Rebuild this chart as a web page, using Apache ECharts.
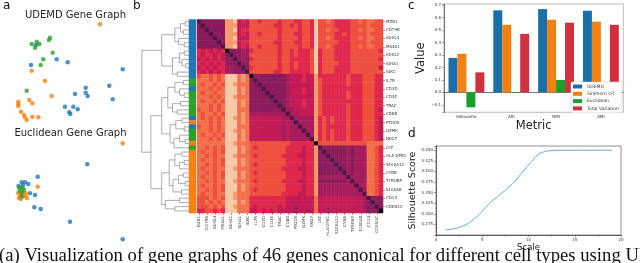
<!DOCTYPE html>
<html><head><meta charset="utf-8">
<script src="https://cdn.jsdelivr.net/npm/echarts@6/dist/echarts.min.js"></script>
<style>html,body{margin:0;padding:0;background:#fff;overflow:hidden}#c{width:640px;height:263px}</style>
</head><body><div id="c"></div>
<script>
// ---------- panel a : gene graph embeddings ----------
const udemdBlue = [[26,80],[46.7,65.7],[57.7,62.7],[21,60],[112.7,55.7],[75.7,37.3],[99.3,39.3],[75.7,32.3],[77.7,29],[65,31],[102.7,25.7],[55,18.3],[63.3,18.3],[67.7,15.7],[59.3,12.7],[60.3,11]];
const udemdOrange = [[90,100.7],[21.7,54.3],[35,44],[41.7,29],[19.3,25],[22.3,21.7],[8.3,23.3],[8.3,21],[8.3,19],[11,13.3],[14,10],[15,7.7],[16.7,5],[22.3,8.3],[28.3,7.7]];
const udemdGreen = [[40,87.3],[39,85],[26.7,83.3],[21.7,81],[29.3,81],[25,77.3],[42.7,72.3],[33.3,65.7],[30.7,60],[16.7,34.3]];
const euclBlue = [[77.3,78.7],[27.7,66.3],[11.7,60.7],[15,60.7],[18.3,59],[20,49.7],[25,48],[24.3,35.7],[30.7,34],[60,21.3],[112.7,3.7],[8.5,57],[13,58]];
const euclOrange = [[112.7,99.7],[27.7,56.3],[8,50],[10,48],[12,46],[15,47],[17,45],[9,45],[13,49],[16,49.5],[11,44]];
const euclGreen = [[9,55],[11,56],[13,54],[10,52],[12,51],[14,53],[11.5,47]];

// ---------- panel b : clustered distance heatmap ----------
const genes = ['MZB1','CD79A','CD79B','IGHM','IGHG4','JCHAIN','MS4A1','IGLC2','IGHG2','IGHG1','IGHA1','IGHG3','IGKC','CD3G','IL7R','LEF1','CD3D','CCR7','CD3E','CD8A','TRAC','CD2','CD8B','GNLY','PTGDS','PRF1','GZMK','GZMB','NKG7','FCER1G','LYZ','S100A9','HLA-DPB1','LST1','S100A12','FCGR3A','CYBB','CST3','TYROBP','MS4A7','S100A8','CTSS','CD14','LGALS2','CDKN1C','AIF1'];
// colour level 0 (darkest) .. 9 (palest) per cell, read row by row
const heatRows = [
"1222222 889 454 6656666566 655665 9 667655556676 7766",
"2122222 888 444 6666665566 565665 9 666655556666 7666",
"2212222 889 455 6666666566 665665 9 667665556676 7766",
"2221222 888 454 6656666566 655665 9 666655656666 7666",
"2222122 889 444 6666666566 665665 9 667655556676 7766",
"2222212 888 455 6666665566 655665 9 666665556666 7666",
"2222221 889 454 6656666566 665665 9 667655556676 7766",
"5454545 022 233 5666666566 565556 9 566655556666 6665",
"5455454 212 233 6666666566 565556 9 566655556666 6666",
"4545454 221 232 5666666566 555556 9 566655556666 6665",
"5454545 222 122 6666666566 565556 9 566665556666 6666",
"4545455 332 212 5666666566 565556 9 566655556666 6664",
"5454545 332 221 6666665566 555556 9 566655556666 6666",
"6776767 999 787 0222222223 444544 8 555555565556 6655",
"7776767 999 787 2122222223 444544 8 655555565556 6655",
"7677676 998 777 2212222223 444444 8 655555565556 6655",
"7776767 999 787 2221222223 444544 8 655555555556 6655",
"7677677 999 787 2222122223 444544 8 655555565556 6655",
"7776767 998 777 2222212223 444444 8 655555565556 6655",
"7677676 999 787 2222221223 444544 8 655555555556 6655",
"7776767 999 787 2222222123 444544 8 655555565556 6655",
"6776767 999 777 2222222213 344444 8 655555565556 6654",
"7677676 999 787 3333333331 334444 8 655555565556 6655",
"7676767 998 787 4444444433 133333 8 565655565556 6654",
"7776767 999 787 4444444434 313333 8 565655565556 6654",
"6776767 999 777 4444444434 331333 8 565555565556 6654",
"7776767 998 787 4444444434 333133 8 565655565556 6654",
"7677676 999 787 4444444434 333313 8 565655565556 6654",
"7776767 999 787 4444444434 333331 8 565655565556 6654",
"7777777 998 777 6666666666 555555 0 666666666666 7777",
"7767676 999 787 6566666665 555455 8 122222232333 7765",
"7677676 999 787 6666666665 555455 8 212222232333 7765",
"7767677 998 777 6566666655 554455 8 221222232333 7765",
"7677676 999 787 6666666665 555455 8 222122232333 7765",
"7767676 999 787 6566666665 555455 8 222212232333 7765",
"7677677 998 777 6666666655 554455 8 222221232333 7765",
"7767676 999 787 6566666665 555455 8 222222132333 7765",
"7677676 999 787 6666666665 555455 8 333333313333 7765",
"7767677 998 777 6566666655 554455 8 222222231333 7765",
"7677676 999 787 6666666665 555455 8 333333333133 7765",
"7767676 999 787 6566666665 555455 8 333333333313 7765",
"7677677 998 777 6666666655 554455 8 333333333331 7765",
"6667676 998 777 5555555554 444444 7 444444444443 1222",
"6676767 999 787 5555555554 444444 7 444444444443 2122",
"6667676 998 777 5455555454 434444 7 444444444443 2212",
"5566565 999 777 4454545444 434434 7 443444444443 2220"
];
// cell-type group of each row (B = blue, G = green, O = orange)
const rowGroups = "BBBBBBBBBBBBBBGGBGGGGGGBOBGGGOGOOOOOOOOOOOOOOO";
// dendrogram: leaf = 1, node = [mergeHeight, left, right]
const dendroTree = [1.0,
  [0.58,
    [0.30,[0.18,[0.08,1,1],[0.12,1,1]],[0.22,1,[0.10,1,1]]],
    [0.35,[0.20,[0.10,1,1],[0.15,1,[0.07,1,1]]],[0.25,1,1]]],
  [0.81,
    [0.58,
      [0.45,[0.30,[0.12,1,1],[0.20,1,[0.10,1,1]]],[0.35,[0.18,1,1],[0.25,1,1]]],
      [0.40,[0.28,[0.15,1,1],[0.10,1,1]],[0.32,[0.20,1,[0.08,1,1]],1]]],
    [0.58,
      [0.42,[0.30,[0.15,1,1],[0.20,[0.10,1,1],1]],[0.34,[0.22,[0.12,1,1],[0.08,1,1]],[0.16,1,1]]],
      [0.50,[0.20,1,1],[0.30,1,1]]]]];

// ---------- panel c : clustering metrics ----------
const metrics = ['Silhouette','ARI','NMI','AMI'];
const udemdVals = [0.277,0.659,0.669,0.656];
const sinkhornVals = [0.310,0.543,0.584,0.568];
const euclideanVals = [-0.120,-0.005,0.100,0.002];
const tvVals = [0.161,0.470,0.560,0.543];

// ---------- panel d : silhouette vs scale ----------
const scaleVals = [1.0,1.5,2.0,2.5,3.0,3.5,4.0,4.5,5.0,5.5,6.0,6.5,7.0,7.5,8.0,8.5,9.0,9.5,10.0,10.5,11.0,11.5,12.0,12.5,13.0,14.0,15.0,16.0,17.0,18.0,19.0];
const silVals = [0.262,0.263,0.265,0.268,0.272,0.278,0.286,0.295,0.306,0.318,0.329,0.338,0.347,0.356,0.366,0.376,0.389,0.402,0.415,0.427,0.439,0.445,0.448,0.449,0.450,0.450,0.450,0.450,0.450,0.450,0.450];

// ================= build =================
const FONT = '"DejaVu Sans", sans-serif';
const levelColors = ['#100810','#4b1548','#8a1c5c','#a61d5c','#c21b55','#e0284c','#ee5040','#f3704c','#f6996f','#f9c8a8'];
const heatData = [];
heatRows.forEach((s, r) => {
  const t = s.replace(/ /g, '');
  for (let c = 0; c < t.length; c++) heatData.push([c, r, +t[c]]);
});
const groupIdx = {B:0, G:1, O:2};
const barData = rowGroups.split('').map((g, r) => [0, r, groupIdx[g]]);
let leafCounter = 0;
const dendroLines = [];
function layout(node) {
  if (node === 1) return {y: leafCounter++, h: 0};
  const L = layout(node[1]), R = layout(node[2]);
  dendroLines.push({coords: [[L.h, L.y], [node[0], L.y], [node[0], R.y], [R.h, R.y]]});
  return {y: (L.y + R.y) / 2, h: node[0]};
}
layout(dendroTree);

const fmt1 = v => { const r = Math.round(v * 10); if (Math.abs(v * 10 - r) > 1e-6) return ''; return (r < 0 ? '\u2212' : '') + (Math.abs(r) / 10).toFixed(1); };
const fmt3 = v => { const r = Math.round(v * 40); if (Math.abs(v * 40 - r) > 1e-6 || v < 0.26) return ''; return v.toFixed(3); };

const grids = [
  {left: 10, top: 20, width: 120, height: 105},
  {left: 10, top: 138, width: 120, height: 105},
  {left: 140, top: 19.5, width: 49, height: 193.5},
  {left: 189, top: 19.5, width: 6.8, height: 193.5},
  {left: 197, top: 19.5, width: 186, height: 193.5},
  {left: 444, top: 4, width: 179.3, height: 108.3, show: true, borderColor: '#aaa', borderWidth: 0.8},
  {left: 436, top: 146, width: 185, height: 89, show: true, borderColor: '#777', borderWidth: 0.8}
].map(g => Object.assign({outerBoundsMode: 'none', containLabel: false}, g));

const smallLabel = {fontSize: 4, color: '#333', fontFamily: FONT};
const option = {
  animation: false,
  textStyle: {fontFamily: FONT},
  grid: grids,
  xAxis: [
    {gridIndex: 0, type: 'value', min: 0, max: 120, show: false},
    {gridIndex: 1, type: 'value', min: 0, max: 120, show: false},
    {gridIndex: 2, type: 'value', min: 0, max: 1.04, inverse: true, show: false},
    {gridIndex: 3, type: 'category', data: ['g'], show: false},
    {gridIndex: 4, type: 'category', data: genes, axisLine: {show: false},
      axisTick: {show: true, interval: 1, length: 2, lineStyle: {color: '#333', width: 0.5}, alignWithLabel: true},
      axisLabel: Object.assign({interval: 1, rotate: 90, margin: 3}, smallLabel)},
    {gridIndex: 5, type: 'category', data: metrics,
      axisLine: {lineStyle: {color: '#555', width: 0.8}},
      axisTick: {alignWithLabel: true, length: 2, lineStyle: {color: '#555', width: 0.5}},
      axisLabel: Object.assign({margin: 3}, smallLabel),
      name: 'Metric', nameLocation: 'middle', nameGap: 7, nameTextStyle: {fontSize: 11.5, color: '#222', fontFamily: FONT, verticalAlign: 'top'}},
    {gridIndex: 6, type: 'value', min: 0, max: 20, interval: 5,
      axisLine: {lineStyle: {color: '#444', width: 0.8}},
      axisTick: {length: 2, lineStyle: {color: '#444', width: 0.5}},
      minorTick: {show: true, splitNumber: 2, length: 1.5, lineStyle: {color: '#444', width: 0.5}},
      splitLine: {show: false},
      axisLabel: Object.assign({margin: 3}, smallLabel),
      name: 'Scale', nameLocation: 'middle', nameGap: 6, nameTextStyle: {fontSize: 8.5, color: '#222', fontFamily: FONT, verticalAlign: 'top'}}
  ],
  yAxis: [
    {gridIndex: 0, type: 'value', min: 0, max: 105, show: false},
    {gridIndex: 1, type: 'value', min: 0, max: 105, show: false},
    {gridIndex: 2, type: 'value', min: -0.5, max: 45.5, inverse: true, show: false},
    {gridIndex: 3, type: 'category', data: genes, inverse: true, show: false},
    {gridIndex: 4, type: 'category', data: genes, inverse: true, position: 'right', axisLine: {show: false},
      axisTick: {show: true, interval: 1, length: 2, lineStyle: {color: '#333', width: 0.5}, alignWithLabel: true},
      axisLabel: Object.assign({interval: 1, margin: 3}, smallLabel)},
    {gridIndex: 5, type: 'value', min: -0.16, max: 0.71, splitNumber: 9,
      axisLine: {show: true, lineStyle: {color: '#555', width: 0.8}},
      axisTick: {show: true, length: 2, lineStyle: {color: '#555', width: 0.5}},
      splitLine: {show: false},
      axisLabel: Object.assign({margin: 3, formatter: fmt1}, smallLabel),
      name: 'Value', nameLocation: 'middle', nameGap: 17, nameTextStyle: {fontSize: 11.5, color: '#222', fontFamily: FONT}},
    {gridIndex: 6, type: 'value', min: 0.25, max: 0.46, interval: 0.025,
      axisLine: {show: true, lineStyle: {color: '#444', width: 0.8}},
      axisTick: {show: true, length: 2, lineStyle: {color: '#444', width: 0.5}},
      splitLine: {show: false},
      axisLabel: Object.assign({margin: 3, formatter: fmt3}, smallLabel),
      name: 'Silhouette Score', nameLocation: 'middle', nameGap: 12.5, nameTextStyle: {fontSize: 9.5, color: '#222', fontFamily: FONT}}
  ],
  visualMap: [
    {type: 'continuous', show: false, seriesIndex: 7, dimension: 2, min: 0, max: 9, inRange: {color: levelColors}},
    {type: 'piecewise', show: false, seriesIndex: 8, dimension: 2,
      pieces: [{value: 0, color: '#1f77b4'}, {value: 1, color: '#2ca02c'}, {value: 2, color: '#ff7f0e'}]}
  ],
  legend: {
    left: 571, top: 82, orient: 'vertical', icon: 'rect', itemWidth: 9, itemHeight: 4, itemGap: 2.3,
    padding: [2, 3, 2, 2], borderColor: '#ccc', borderWidth: 0.6, borderRadius: 1, backgroundColor: '#fff',
    textStyle: {fontSize: 4.5, color: '#333', fontFamily: FONT},
    data: ['UDEMD', 'Sinkhorn OT', 'Euclidean', 'Total Variation']
  },
  series: [
    {type: 'scatter', xAxisIndex: 0, yAxisIndex: 0, data: udemdBlue, symbolSize: 4.5, itemStyle: {color: '#1f77b4'}},
    {type: 'scatter', xAxisIndex: 0, yAxisIndex: 0, data: udemdOrange, symbolSize: 4.5, itemStyle: {color: '#ff7f0e'}},
    {type: 'scatter', xAxisIndex: 0, yAxisIndex: 0, data: udemdGreen, symbolSize: 4.5, itemStyle: {color: '#2ca02c'}},
    {type: 'scatter', xAxisIndex: 1, yAxisIndex: 1, data: euclBlue, symbolSize: 4.5, itemStyle: {color: '#1f77b4'}},
    {type: 'scatter', xAxisIndex: 1, yAxisIndex: 1, data: euclOrange, symbolSize: 4.5, itemStyle: {color: '#ff7f0e'}},
    {type: 'scatter', xAxisIndex: 1, yAxisIndex: 1, data: euclGreen, symbolSize: 4.5, itemStyle: {color: '#2ca02c'}},
    {type: 'lines', coordinateSystem: 'cartesian2d', xAxisIndex: 2, yAxisIndex: 2, polyline: true, silent: true,
      data: dendroLines, lineStyle: {color: '#8a8a8a', width: 0.7, opacity: 1}},
    {type: 'heatmap', xAxisIndex: 4, yAxisIndex: 4, data: heatData, itemStyle: {borderWidth: 0}, progressive: 0},
    {type: 'heatmap', xAxisIndex: 3, yAxisIndex: 3, data: barData, itemStyle: {borderWidth: 0}, progressive: 0},
    {type: 'bar', name: 'UDEMD', xAxisIndex: 5, yAxisIndex: 5, data: udemdVals, itemStyle: {color: '#1a6fa8'}, barGap: '0%', barCategoryGap: '20%'},
    {type: 'bar', name: 'Sinkhorn OT', xAxisIndex: 5, yAxisIndex: 5, data: sinkhornVals, itemStyle: {color: '#f28012'}, barGap: '0%', barCategoryGap: '20%'},
    {type: 'bar', name: 'Euclidean', xAxisIndex: 5, yAxisIndex: 5, data: euclideanVals, itemStyle: {color: '#1a9e2a'}, barGap: '0%', barCategoryGap: '20%'},
    {type: 'bar', name: 'Total Variation', xAxisIndex: 5, yAxisIndex: 5, data: tvVals, itemStyle: {color: '#d3303f'}, barGap: '0%', barCategoryGap: '20%'},
    {type: 'line', xAxisIndex: 6, yAxisIndex: 6, data: scaleVals.map((s, i) => [s, silVals[i]]), showSymbol: false, smooth: true,
      lineStyle: {color: '#5ba3d9', width: 1}}
  ],
  graphic: [
    {type: 'text', x: 3, y: 0, style: {text: 'a', font: '12px ' + FONT, fill: '#111'}},
    {type: 'text', x: 133, y: 0, style: {text: 'b', font: '12px ' + FONT, fill: '#111'}},
    {type: 'text', x: 408, y: 0, style: {text: 'c', font: '12px ' + FONT, fill: '#111'}},
    {type: 'text', x: 408, y: 128, style: {text: 'd', font: '12px ' + FONT, fill: '#111'}},
    {type: 'text', x: 75.5, y: 15, style: {text: 'UDEMD Gene Graph', font: '10px ' + FONT, fill: '#222', align: 'center', verticalAlign: 'middle', textAlign: 'center', textVerticalAlign: 'middle'}},
    {type: 'text', x: 70.5, y: 133.5, style: {text: 'Euclidean Gene Graph', font: '10px ' + FONT, fill: '#222', align: 'center', verticalAlign: 'middle', textAlign: 'center', textVerticalAlign: 'middle'}},
    {type: 'text', x: -1, y: 247, style: {text: '(a) Visualization of gene graphs of 46 genes canonical for different cell types using UDEMD and Euclidean distances.', font: '18.7px "Liberation Serif", serif', fill: '#111'}}
  ]
};
const chart = echarts.init(document.getElementById('c'), null, {renderer: 'canvas'});
chart.setOption(option);
</script></body></html>
